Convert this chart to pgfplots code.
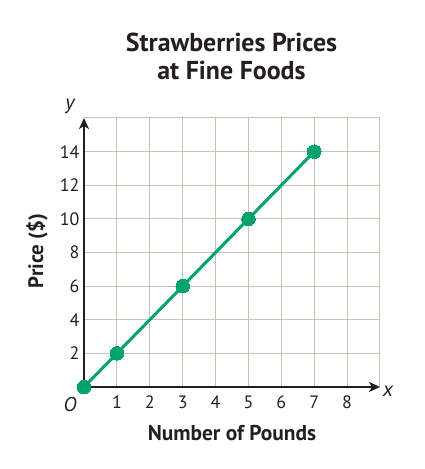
\documentclass[border=0pt]{standalone}
\usepackage{pgfplots}
\pgfplotsset{compat=1.18}
\usetikzlibrary{arrows.meta}
\usepackage{fontspec}
\setmainfont{PT Sans}
\definecolor{grn}{HTML}{00A36C}
\definecolor{gridc}{HTML}{C9C2B3}
\definecolor{txt}{HTML}{231F20}
\begin{document}
\begin{tikzpicture}[x=1bp,y=1bp]
\useasboundingbox (-84,-82) rectangle (340,387);
\begin{axis}[
  at={(0,0)}, anchor=south west,
  width=296bp, height=269bp, scale only axis,
  xmin=0, xmax=9, ymin=0, ymax=16,
  axis lines=left,
  axis line style={txt, line width=2bp, -{Stealth[length=11bp,width=10bp,inset=3bp]}},
  xtick={1,...,8}, ytick={2,4,...,14},
  minor xtick={9}, minor ytick={16},
  grid=both,
  major grid style={gridc, line width=1bp},
  minor grid style={gridc, line width=1bp},
  major tick length=0pt, minor tick length=0pt,
  tick style={draw=none},
  /pgf/number format/assume math mode=true,
  ticklabel style={font=\fontsize{18}{20}\selectfont, text=txt},
  xticklabel style={yshift=-5bp},
  yticklabel style={xshift=-1bp},
  clip=false,
]
\addplot[grn, line width=3bp, mark=*, mark size=6.8bp, mark options={fill=grn, draw=grn, line width=0pt}]
  coordinates {(0,0) (1,2) (3,6) (5,10) (7,14)};
\end{axis}
\node[anchor=base, text=txt, font=\bfseries\fontsize{26}{30}\selectfont] at (147.5,335) {Strawberries Prices};
\node[anchor=base, text=txt, font=\bfseries\fontsize{26}{30}\selectfont] at (147.5,307) {at Fine Foods};
\node[anchor=base, text=txt, font=\bfseries\fontsize{21.5}{24}\selectfont] at (148,-53) {Number of Pounds};
\node[anchor=center, rotate=90, text=txt, font=\bfseries\fontsize{21}{24}\selectfont] at (-47,136) {Price (\$)};
\node[text=txt, font=\itshape\fontsize{20}{22}\selectfont] at (-14,-18) {O};
\node[text=txt, font=\itshape\fontsize{21}{22}\selectfont] at (304,-4) {x};
\node[text=txt, font=\itshape\fontsize{21}{22}\selectfont] at (-14,281) {y};
\end{tikzpicture}
\end{document}
